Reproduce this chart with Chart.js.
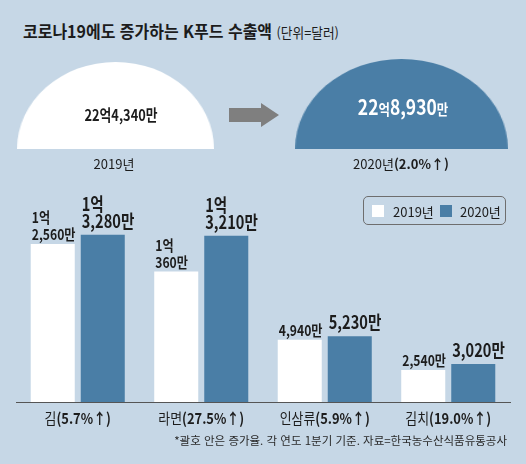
<!DOCTYPE html>
<html lang="ko">
<head>
<meta charset="utf-8">
<script src="https://cdn.jsdelivr.net/npm/chart.js@4.4.0/dist/chart.umd.min.js"></script>
<style>
  body { margin: 0; }
  #wrap {
    position: relative; width: 526px; height: 464px; overflow: hidden;
    background: #c6d7e6; color: #1c1c1c;
    font-family: "Noto Sans CJK KR", sans-serif;
  }
  .t { position: absolute; white-space: nowrap; line-height: 1; }
  .mid { transform: translate(-50%, -50%); }
  .vmid { transform: translateY(-50%); }
  canvas { position: absolute; }
  #legend {
    position: absolute; left: 363px; top: 196px; width: 141px; height: 27px;
    border: 1px solid #6e6e6e; border-radius: 5px;
  }
  .sw { position: absolute; width: 12px; height: 12px; top: 8px; }
</style>
</head>
<body>
<div id="wrap">
  <div class="t" style="left:23px;top:31px;font-size:17px;font-weight:bold;transform:translateY(-50%) scaleX(0.94);transform-origin:left center">
    코로나19에도 증가하는 K푸드 수출액 <span style="font-size:13.5px;font-weight:normal">(단위=달러)</span>
  </div>

  <canvas id="pie2019" width="174" height="87" style="left:17px;top:62px;width:197px;height:87px"></canvas>
  <canvas id="pie2020" width="180" height="90" style="left:295px;top:59px;width:213px;height:90px"></canvas>

  <svg width="526" height="180" style="position:absolute;left:0;top:0">
    <polygon points="229,108 261,108 261,103 279,115 261,127 261,122 229,122" fill="#7f7f7f"/>
  </svg>

  <div id="total2019" class="t" style="left:121px;top:114px;font-weight:bold;transform:translate(-50%,-50%) scaleX(0.8)"></div>
  <div id="total2020" class="t" style="left:403px;top:106px;font-weight:bold;color:#fff;transform:translate(-50%,-50%) scaleX(0.83)"></div>
  <div id="year2019" class="t mid" style="left:114px;top:163px;font-size:13px"></div>
  <div id="year2020" class="t mid" style="left:401px;top:163px;font-size:13px"></div>

  <canvas id="bars" width="526" height="284" style="left:0;top:180px"></canvas>

  <div id="legend">
    <div class="sw" style="left:8px;background:#fff"></div>
    <div class="t vmid" id="leg0" style="left:29px;top:14px;font-size:13px"></div>
    <div class="sw" style="left:76px;background:#4a7ea6"></div>
    <div class="t vmid" id="leg1" style="left:96px;top:14px;font-size:13px"></div>
  </div>

  <div class="t vmid" style="right:19px;top:441px;font-size:11.5px;color:#2a2a2a">
    *괄호 안은 증가율. 각 연도 1분기 기준. 자료=한국농수산식품유통공사
  </div>
</div>

<script>
// 단위: 만 달러
const totalYears = ["2019년", "2020년"];
const totalValues = [224340, 228930];
const totalGrowth = "2.0";

const categories = ["김", "라면", "인삼류", "김치"];
const growthRates = ["5.7", "27.5", "5.9", "19.0"];
const values2019 = [12560, 10360, 4940, 2540];
const values2020 = [13280, 13210, 5230, 3020];

const FONT = '"Noto Sans CJK KR", sans-serif';
const WHITE = "#ffffff";
const BLUE = "#4a7ea6";

function splitValue(v) {
    const eok = Math.floor(v / 10000);
    const man = v % 10000;
    const manText = man.toLocaleString("en-US") + "만";
    return eok > 0 ? [eok + "억", manText] : [manText];
}

// 22억4,340만 처럼 표기
function totalHtml(v, numSize, unitSize) {
    const eok = Math.floor(v / 10000);
    const man = (v % 10000).toLocaleString("en-US");
    return '<span style="font-size:' + numSize + 'px">' + eok + '</span>' +
        '<span style="font-size:' + unitSize + 'px">억</span>' +
        '<span style="font-size:' + numSize + 'px">' + man + '</span>' +
        '<span style="font-size:' + unitSize + 'px">만</span>';
}

document.getElementById("total2019").innerHTML = totalHtml(totalValues[0], 16, 16);
document.getElementById("total2020").innerHTML = totalHtml(totalValues[1], 21, 15);
document.getElementById("year2019").textContent = totalYears[0];
document.getElementById("year2020").innerHTML = totalYears[1] + "<b>(" + totalGrowth + "%↑)</b>";
document.getElementById("leg0").textContent = totalYears[0];
document.getElementById("leg1").textContent = totalYears[1];

function halfPie(id, value, color) {
    new Chart(document.getElementById(id), {
        type: "pie",
        data: {
            labels: [id],
            datasets: [{
                data: [value],
                backgroundColor: [color],
                borderWidth: 0
            }]
        },
        options: {
            responsive: false,
            animation: false,
            circumference: 180,
            rotation: -90,
            layout: { padding: 0 },
            plugins: {
                legend: { display: false },
                tooltip: { enabled: false }
            }
        }
    });
}

halfPie("pie2019", totalValues[0], WHITE);
halfPie("pie2020", totalValues[1], BLUE);

// 좁은 글꼴 흉내: 가로로 눌러서 그림
function narrowText(ctx, text, x, y, sx) {
    ctx.save();
    ctx.translate(x, y);
    ctx.scale(sx, 1);
    ctx.fillText(text, 0, 0);
    ctx.restore();
}

// 막대 위 값 표시
const valueLabels = {
    id: "valueLabels",
    afterDatasetsDraw(chart) {
        const ctx = chart.ctx;
        chart.data.datasets.forEach(function (ds, di) {
            const meta = chart.getDatasetMeta(di);
            const size = di === 0 ? 15 : 18;
            const gap = di === 0 ? 4 : 7;
            meta.data.forEach(function (bar, i) {
                const lines = splitValue(ds.data[i]);
                ctx.save();
                ctx.font = "bold " + size + "px " + FONT;
                ctx.fillStyle = "#1c1c1c";
                ctx.textAlign = "left";
                ctx.textBaseline = "alphabetic";
                const x = bar.x - bar.width / 2 + 1;
                let y = bar.y - gap;
                for (let k = lines.length - 1; k >= 0; k--) {
                    narrowText(ctx, lines[k], x, y, 0.81);
                    y -= 17;
                }
                ctx.restore();
            });
        });
    }
};

// 품목명 + 증가율 (굵기 섞어서)
const categoryLabels = {
    id: "categoryLabels",
    afterDraw(chart) {
        const ctx = chart.ctx;
        const xScale = chart.scales.x;
        const y = chart.chartArea.bottom + 16.5;
        const sx = 0.86;
        ctx.save();
        ctx.fillStyle = "#1c1c1c";
        ctx.textBaseline = "middle";
        ctx.textAlign = "left";
        categories.forEach(function (name, i) {
            const rest = "(" + growthRates[i] + "%↑)";
            ctx.font = "15px " + FONT;
            const w1 = ctx.measureText(name).width * sx;
            ctx.font = "bold 15px " + FONT;
            const w2 = ctx.measureText(rest).width * sx;
            const left = xScale.getPixelForValue(i) - (w1 + w2) / 2;
            ctx.font = "15px " + FONT;
            narrowText(ctx, name, left, y, sx);
            ctx.font = "bold 15px " + FONT;
            narrowText(ctx, rest, left + w1, y, sx);
        });
        ctx.restore();
    }
};

new Chart(document.getElementById("bars"), {
    type: "bar",
    data: {
        labels: categories,
        datasets: [
            { label: totalYears[0], data: values2019, backgroundColor: WHITE, borderWidth: 0 },
            { label: totalYears[1], data: values2020, backgroundColor: BLUE, borderWidth: 0 }
        ]
    },
    options: {
        responsive: false,
        animation: false,
        categoryPercentage: 0.81,
        barPercentage: 0.88,
        layout: {
            padding: { left: 16, right: 16, top: 8, bottom: 62 }
        },
        plugins: {
            legend: { display: false },
            tooltip: { enabled: false }
        },
        scales: {
            x: {
                grid: { display: false, drawTicks: false },
                border: { display: true, color: "#555555", width: 1 },
                ticks: { display: false }
            },
            y: {
                display: false,
                min: 0,
                max: 17000
            }
        }
    },
    plugins: [valueLabels, categoryLabels]
});
</script>
</body>
</html>
